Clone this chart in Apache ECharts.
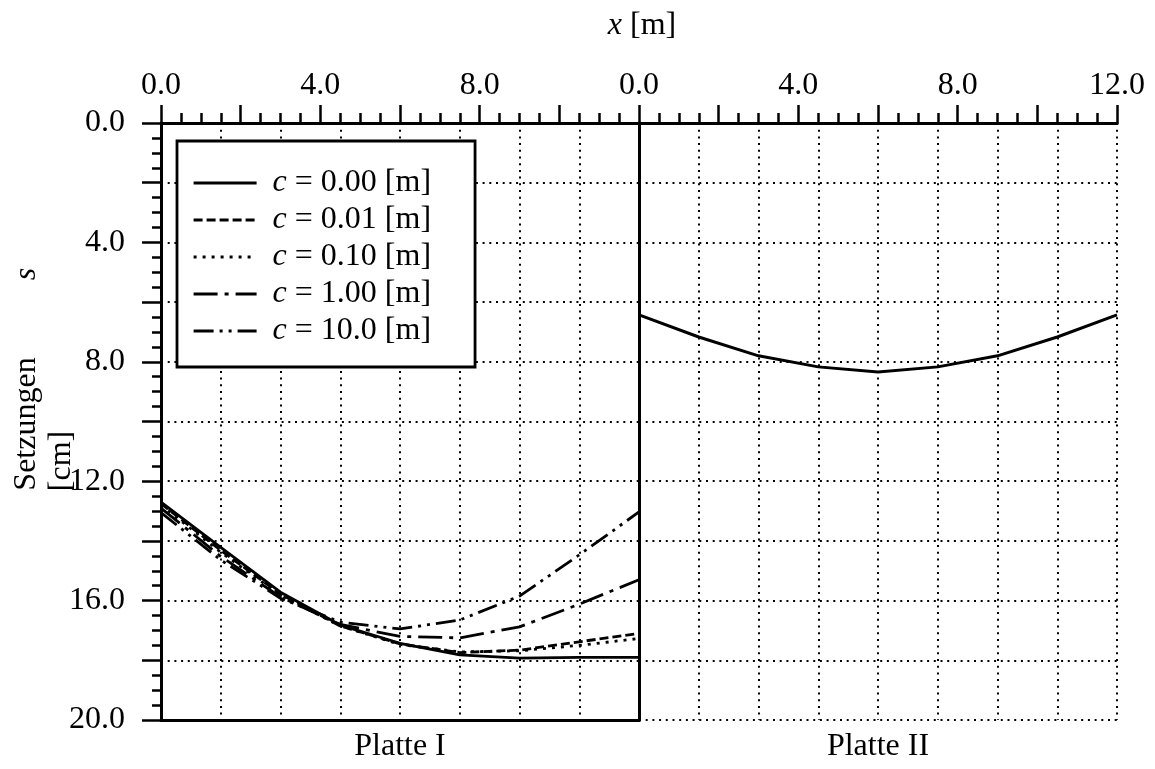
<!DOCTYPE html>
<html>
<head>
<meta charset="utf-8">
<script src="https://cdn.jsdelivr.net/npm/echarts@6/dist/echarts.min.js"></script>
<style>
html,body{margin:0;padding:0;background:#fff;}
#chart{width:1155px;height:769px;}
</style>
</head>
<body>
<div id="chart"></div>
<script>
// ---- data ----
var xPos = [0, 1.5, 3, 4.5, 6, 7.5, 9, 10.5, 12];
var cLabels = ['0.00', '0.01', '0.10', '1.00', '10.0'];
var s_c000 = [12.70, 14.22, 15.72, 16.82, 17.43, 17.82, 17.93, 17.90, 17.90];
var s_c001 = [12.75, 14.32, 15.78, 16.85, 17.45, 17.74, 17.66, 17.38, 17.10];
var s_c010 = [12.80, 14.38, 15.82, 16.85, 17.47, 17.72, 17.68, 17.50, 17.27];
var s_c100 = [12.90, 14.52, 15.88, 16.80, 17.20, 17.25, 16.88, 16.12, 15.30];
var s_c1000 = [13.05, 14.64, 15.92, 16.72, 16.95, 16.65, 15.85, 14.47, 13.03];
var s_platte2 = [6.43, 7.17, 7.80, 8.17, 8.34, 8.17, 7.80, 7.17, 6.43];
var xTickLabelsLeft = [0, 4, 8];
var xTickLabelsRight = [0, 4, 8, 12];
var yTickLabels = [0, 4, 8, 12, 16, 20];

function pairs(ys) { return xPos.map(function (x, i) { return [x, ys[i]]; }); }

var FONT = 'Liberation Serif';
var FS = 32;
var K = '#000';

var dotted = { show: true, lineStyle: { color: K, width: 2, type: [2, 4.7] } };

function topAxis(grid, labels) {
  return {
    type: 'value', gridIndex: grid, position: 'top', min: 0, max: 12, interval: 2,
    axisLine: { show: true, lineStyle: { color: K, width: 3 } },
    axisTick: { show: true, inside: false, length: 18, lineStyle: { color: K, width: 2.5 } },
    minorTick: { show: true, splitNumber: 4, length: 10, lineStyle: { color: K, width: 2.5 } },
    axisLabel: {
      show: true, margin: 21, color: K, fontFamily: FONT, fontSize: FS,
      showMinLabel: true, showMaxLabel: true,
      formatter: function (v) { return labels.indexOf(v) >= 0 ? v.toFixed(1) : ''; }
    },
    splitLine: { show: false }, minorSplitLine: { show: false }
  };
}
function gridAxis(grid) {
  return {
    type: 'value', gridIndex: grid, position: 'bottom', min: 0, max: 12, interval: 1.5,
    axisLine: { show: true, lineStyle: { color: K, width: 3 } },
    axisTick: { show: false }, axisLabel: { show: false },
    splitLine: dotted
  };
}

var lineW = 2.8;
function mk(name, data, type, xi, yi) {
  return {
    type: 'line', name: name, data: pairs(data), xAxisIndex: xi, yAxisIndex: yi,
    symbol: 'none', smooth: false, animation: false,
    lineStyle: { color: K, width: lineW, type: type },
    itemStyle: { color: K }, z: 3
  };
}

var option = {
  backgroundColor: '#fff',
  animation: false,
  grid: [
    { left: 161, top: 123, width: 478, height: 597, containLabel: false },
    { left: 639, top: 123, width: 478, height: 597, containLabel: false }
  ],
  xAxis: [topAxis(0, xTickLabelsLeft), gridAxis(0), topAxis(1, xTickLabelsRight), gridAxis(1)],
  yAxis: [
    {
      type: 'value', gridIndex: 0, position: 'left', inverse: true, min: 0, max: 20, interval: 2,
      axisLine: { show: true, lineStyle: { color: K, width: 3 } },
      axisTick: { show: true, length: 19, lineStyle: { color: K, width: 2.5 } },
      minorTick: { show: true, splitNumber: 4, length: 9, lineStyle: { color: K, width: 2.5 } },
      axisLabel: {
        margin: 36, color: K, fontFamily: FONT, fontSize: FS,
        formatter: function (v) { return yTickLabels.indexOf(v) >= 0 ? v.toFixed(1) : ''; }
      },
      splitLine: dotted
    },
    {
      type: 'value', gridIndex: 1, position: 'left', inverse: true, min: 0, max: 20, interval: 2,
      axisLine: { show: true, lineStyle: { color: K, width: 3 } },
      axisTick: { show: false }, axisLabel: { show: false },
      splitLine: dotted
    },
    {
      type: 'value', gridIndex: 1, position: 'right', inverse: true, min: 0, max: 20, interval: 2,
      axisLine: { show: true, lineStyle: { color: K, width: 3 } },
      axisTick: { show: false }, axisLabel: { show: false },
      splitLine: { show: false }
    }
  ],
  legend: {
    orient: 'vertical', left: 177, top: 141,
    padding: [26, 44, 20, 15],
    backgroundColor: '#fff', borderColor: K, borderWidth: 2.8, borderRadius: 0,
    itemWidth: 63, itemHeight: 14, itemGap: 5,
    selectedMode: false,
    itemStyle: { color: 'rgba(0,0,0,0)', borderWidth: 0, opacity: 0 },
    lineStyle: { width: 3.2 },
    data: cLabels,
    formatter: function (n) { return '{i|c} = ' + n + ' [m]'; },
    textStyle: {
      color: K, fontFamily: FONT, fontSize: FS, padding: [0, 0, 0, 11], lineHeight: 32,
      rich: { i: { fontStyle: 'italic', fontFamily: FONT, fontSize: FS, color: K } }
    },
    z: 10
  },
  series: [
    mk(cLabels[0], s_c000, 'solid', 0, 0),
    mk(cLabels[1], s_c001, [9, 4], 0, 0),
    mk(cLabels[2], s_c010, [3, 6], 0, 0),
    mk(cLabels[3], s_c100, [24, 7, 4, 7], 0, 0),
    mk(cLabels[4], s_c1000, [20, 6, 3, 6, 3, 6], 0, 0),
    {
      type: 'line', name: 'Platte II', data: pairs(s_platte2), xAxisIndex: 2, yAxisIndex: 1,
      symbol: 'none', lineStyle: { color: K, width: 3 }, itemStyle: { color: K }, z: 3
    }
  ],
  graphic: [
    { type: 'text', style: { text: '{i|x} [m]', x: 642, y: 26, align: 'center', verticalAlign: 'middle', font: FS + 'px "' + FONT + '"', fill: K, rich: { i: { fontStyle: 'italic', fontFamily: FONT, fontSize: FS, fill: K } } } },
    { type: 'text', style: { text: 'Platte I', x: 400, y: 747, align: 'center', verticalAlign: 'middle', font: FS + 'px "' + FONT + '"', fill: K } },
    { type: 'text', style: { text: 'Platte II', x: 878, y: 747, align: 'center', verticalAlign: 'middle', font: FS + 'px "' + FONT + '"', fill: K } },
    { type: 'text', x: 27, y: 424, rotation: Math.PI / 2, style: { text: 'Setzungen', x: 0, y: 0, align: 'center', verticalAlign: 'middle', font: FS + 'px "' + FONT + '"', fill: K } },
    { type: 'text', x: 62, y: 461, rotation: Math.PI / 2, style: { text: '[cm]', x: 0, y: 0, align: 'center', verticalAlign: 'middle', font: FS + 'px "' + FONT + '"', fill: K } },
    { type: 'text', x: 27, y: 274, rotation: Math.PI / 2, style: { text: 's', x: 0, y: 0, align: 'center', verticalAlign: 'middle', font: 'italic ' + FS + 'px "' + FONT + '"', fill: K } }
  ]
};

var chart = echarts.init(document.getElementById('chart'), null, { renderer: 'canvas' });
chart.setOption(option);
</script>
</body>
</html>
